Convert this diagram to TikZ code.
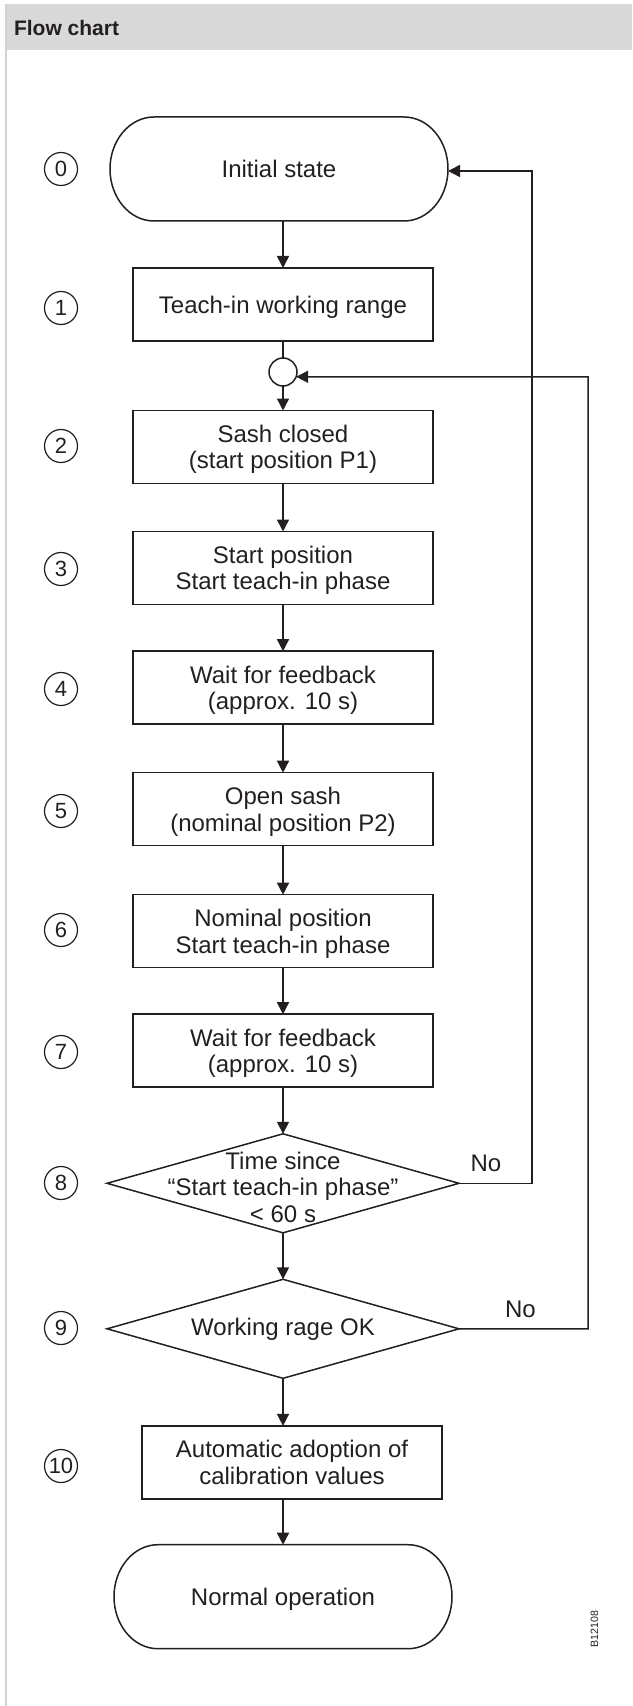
\documentclass[tikz,border=0pt]{standalone}
\usepackage{fontspec}
\setmainfont{Liberation Sans}
\usetikzlibrary{arrows.meta,shapes.geometric,calc}
\definecolor{hdrgray}{RGB}{217,217,217}
\definecolor{bordergray}{RGB}{210,210,210}
\definecolor{ink}{RGB}{35,31,32}
\begin{document}
\begin{tikzpicture}[x=0.5pt,y=-0.5pt,
  every node/.style={inner sep=0pt, outer sep=0pt, text=ink},
  txt/.style={font=\fontsize{12pt}{13.3pt}\selectfont, align=center, text depth=0pt},
  ln/.style={draw=ink, line width=0.75pt},
  procbox/.style={ln, minimum width=150pt, minimum height=36.5pt, txt},
  termnode/.style={minimum width=169pt, minimum height=52pt, txt},
  decision/.style={diamond, ln, minimum width=176pt, minimum height=49.5pt},
  numcirc/.style={circle, draw=ink, line width=0.6pt, minimum size=16.5pt, font=\fontsize{11pt}{12pt}\selectfont},
  arr/.style={ln, -{Triangle[length=6pt,width=6pt]}},
]
\useasboundingbox (0,0) rectangle (632,1706);
% header
\fill[hdrgray] (5,4) rectangle (632,50);
\draw[bordergray, line width=1pt] (5.5,4) -- (5.5,1706);
\node[anchor=base west, font=\fontsize{10.5pt}{12pt}\selectfont\bfseries] (title) at (14,35.7) {Flow chart};

% main nodes
\node[termnode] (t0) at (279,169) {Initial state};
\draw[ln] ([xshift=22pt]t0.north west) -- ([xshift=-22pt]t0.north east)
  arc[start angle=90,end angle=-90,x radius=22pt,y radius=26pt]
  -- ([xshift=22pt]t0.south west)
  arc[start angle=270,end angle=90,x radius=22pt,y radius=26pt] -- cycle;
\node[procbox] (b1) at (283,304.5) {Teach-in working range};
\node[circle, ln, minimum size=14pt] (sc) at (283,372) {};
\node[procbox] (b2) at (283,447) {Sash closed\\(start position P1)};
\node[procbox] (b3) at (283,568) {Start position\\Start teach-in phase};
\node[procbox] (b4) at (283,687.7) {Wait for feedback\\(approx. 10 s)};
\node[procbox] (b5) at (283,809.2) {Open sash\\(nominal position P2)};
\node[procbox] (b6) at (283,931.2) {Nominal position\\Start teach-in phase};
\node[procbox] (b7) at (283,1050.7) {Wait for feedback\\(approx. 10 s)};
\node[decision] (d8) at (283,1183.3) {};
\node[txt] (d8t) at (283,1187) {Time since\\“Start teach-in phase”\\< 60 s};
\node[decision] (d9) at (283,1328.8) {};
\node[txt] (d9t) at (283,1327) {Working rage OK};
\node[procbox] (b10) at (292,1462.4) {Automatic adoption of\\calibration values};
\node[termnode] (te) at (283,1596.7) {Normal operation};
\draw[ln] ([xshift=22pt]te.north west) -- ([xshift=-22pt]te.north east)
  arc[start angle=90,end angle=-90,x radius=22pt,y radius=26pt]
  -- ([xshift=22pt]te.south west)
  arc[start angle=270,end angle=90,x radius=22pt,y radius=26pt] -- cycle;

% step numbers
\node[numcirc] (n0) at (61,169) {0};
\node[numcirc] (n1) at (61,308) {1};
\node[numcirc] (n2) at (61,446) {2};
\node[numcirc] (n3) at (61,569) {3};
\node[numcirc] (n4) at (61,689) {4};
\node[numcirc] (n5) at (61,811) {5};
\node[numcirc] (n6) at (61,930) {6};
\node[numcirc] (n7) at (61,1052) {7};
\node[numcirc] (n8) at (61,1183) {8};
\node[numcirc] (n9) at (61,1328) {9};
\node[numcirc] (n10) at (61,1466) {10};

% connectors
\draw[arr] (t0.south -| b1.north) -- (b1.north);
\draw[ln] (b1.south) -- (sc.north);
\draw[arr] (sc.south) -- (b2.north);
\draw[arr] (b2) -- (b3);
\draw[arr] (b3) -- (b4);
\draw[arr] (b4) -- (b5);
\draw[arr] (b5) -- (b6);
\draw[arr] (b6) -- (b7);
\draw[arr] (b7) -- (d8);
\draw[arr] (d8) -- (d9);
\draw[arr] (d9.south) -- (d9.south |- b10.north);
\draw[arr] (te.north |- b10.south) -- (te.north);

\coordinate (r1) at (532,171);
\draw[arr] (d8.east) -| (r1) -- (r1 -| t0.east);
\coordinate (r2) at (588,376.8);
\draw[arr] (d9.east) -| (r2) -- (sc.-20);

\node[txt] (no8) at (486,1163) {No};
\node[txt] (no9) at (520.5,1309) {No};

\node[rotate=90, font=\fontsize{5.3pt}{6pt}\selectfont] (code) at (594.5,1629) {B12108};
\end{tikzpicture}
\end{document}
